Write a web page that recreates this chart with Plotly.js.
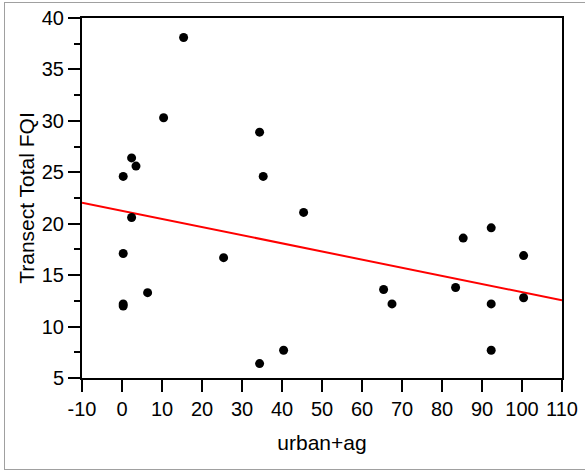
<!DOCTYPE html>
<html>
<head>
<meta charset="utf-8">
<script src="https://cdn.plot.ly/plotly-3.0.1.min.js"></script>
<style>
  html, body { margin: 0; padding: 0; background: #fff; overflow: hidden; }
  #chart { position: absolute; left: 0; top: 0; width: 585px; height: 470px; }
  #frame { position: absolute; left: 4px; top: 2px; width: 700px; height: 468px;
           box-sizing: border-box; border: 1px solid #a0a0a0; pointer-events: none; }
</style>
</head>
<body>
<div id="chart"></div>
<div id="frame"></div>
<script>
// Observed points: urban+ag (%) vs Transect Total FQI
const urbanAg = [0.3, 0.3, 0.3, 0.3, 2.4, 3.5, 2.4, 6.4, 10.4, 15.4, 25.4, 34.4, 35.3, 34.4, 40.4, 45.4, 65.4, 67.5, 83.4, 85.3, 92.3, 92.3, 92.3, 100.4, 100.4];
const totalFQI = [24.6, 17.1, 12.2, 12.0, 26.4, 25.6, 20.6, 13.3, 30.3, 38.1, 16.7, 28.9, 24.6, 6.4, 7.7, 21.1, 13.6, 12.2, 13.8, 18.6, 19.6, 12.2, 7.7, 16.9, 12.8];

// Fitted line endpoints
const fitX = [-10, 110];
const fitY = [22.05, 12.55];

const xTicks = [-10, 0, 10, 20, 30, 40, 50, 60, 70, 80, 90, 100, 110];
const yTicks = [5, 10, 15, 20, 25, 30, 35, 40];

const font = "Liberation Sans, Arial, sans-serif";

const traces = [
  {
    x: fitX, y: fitY, mode: 'lines', type: 'scatter',
    line: {color: '#ff0000', width: 2}, hoverinfo: 'skip', cliponaxis: true
  },
  {
    x: urbanAg, y: totalFQI, mode: 'markers', type: 'scatter',
    marker: {color: '#000000', size: 9}
  }
];

const layout = {
  width: 585, height: 470,
  margin: {l: 82, r: 23, t: 18, b: 92},
  paper_bgcolor: 'rgba(0,0,0,0)', plot_bgcolor: '#ffffff',
  showlegend: false,
  font: {family: font, color: '#000', size: 20},
  xaxis: {
    range: [-10, 110], tickmode: 'array', tickvals: xTicks, ticktext: xTicks.map(String),
    showgrid: false, zeroline: false, showline: true, linecolor: '#000', linewidth: 2,
    mirror: true, ticks: 'outside', ticklen: 12, tickwidth: 2, tickcolor: '#000',
    tickfont: {family: font, size: 20, color: '#000'},
    title: {text: 'urban+ag', font: {family: font, size: 21, color: '#000'}, standoff: 16}
  },
  yaxis: {
    range: [5, 40], tickmode: 'array', tickvals: yTicks, ticktext: yTicks.map(String),
    showgrid: false, zeroline: false, showline: true, linecolor: '#000', linewidth: 2,
    mirror: true, ticks: 'outside', ticklen: 12, tickwidth: 2, tickcolor: '#000',
    tickfont: {family: font, size: 20, color: '#000'},
    minor: {dtick: 2.5, tick0: 5, ticks: 'outside', ticklen: 6, tickwidth: 2, tickcolor: '#000', showgrid: false},
    title: {text: 'Transect Total FQI', font: {family: font, size: 21, color: '#000'}, standoff: 1}
  }
};

Plotly.newPlot('chart', traces, layout, {staticPlot: true, displayModeBar: false});
</script>
</body>
</html>
